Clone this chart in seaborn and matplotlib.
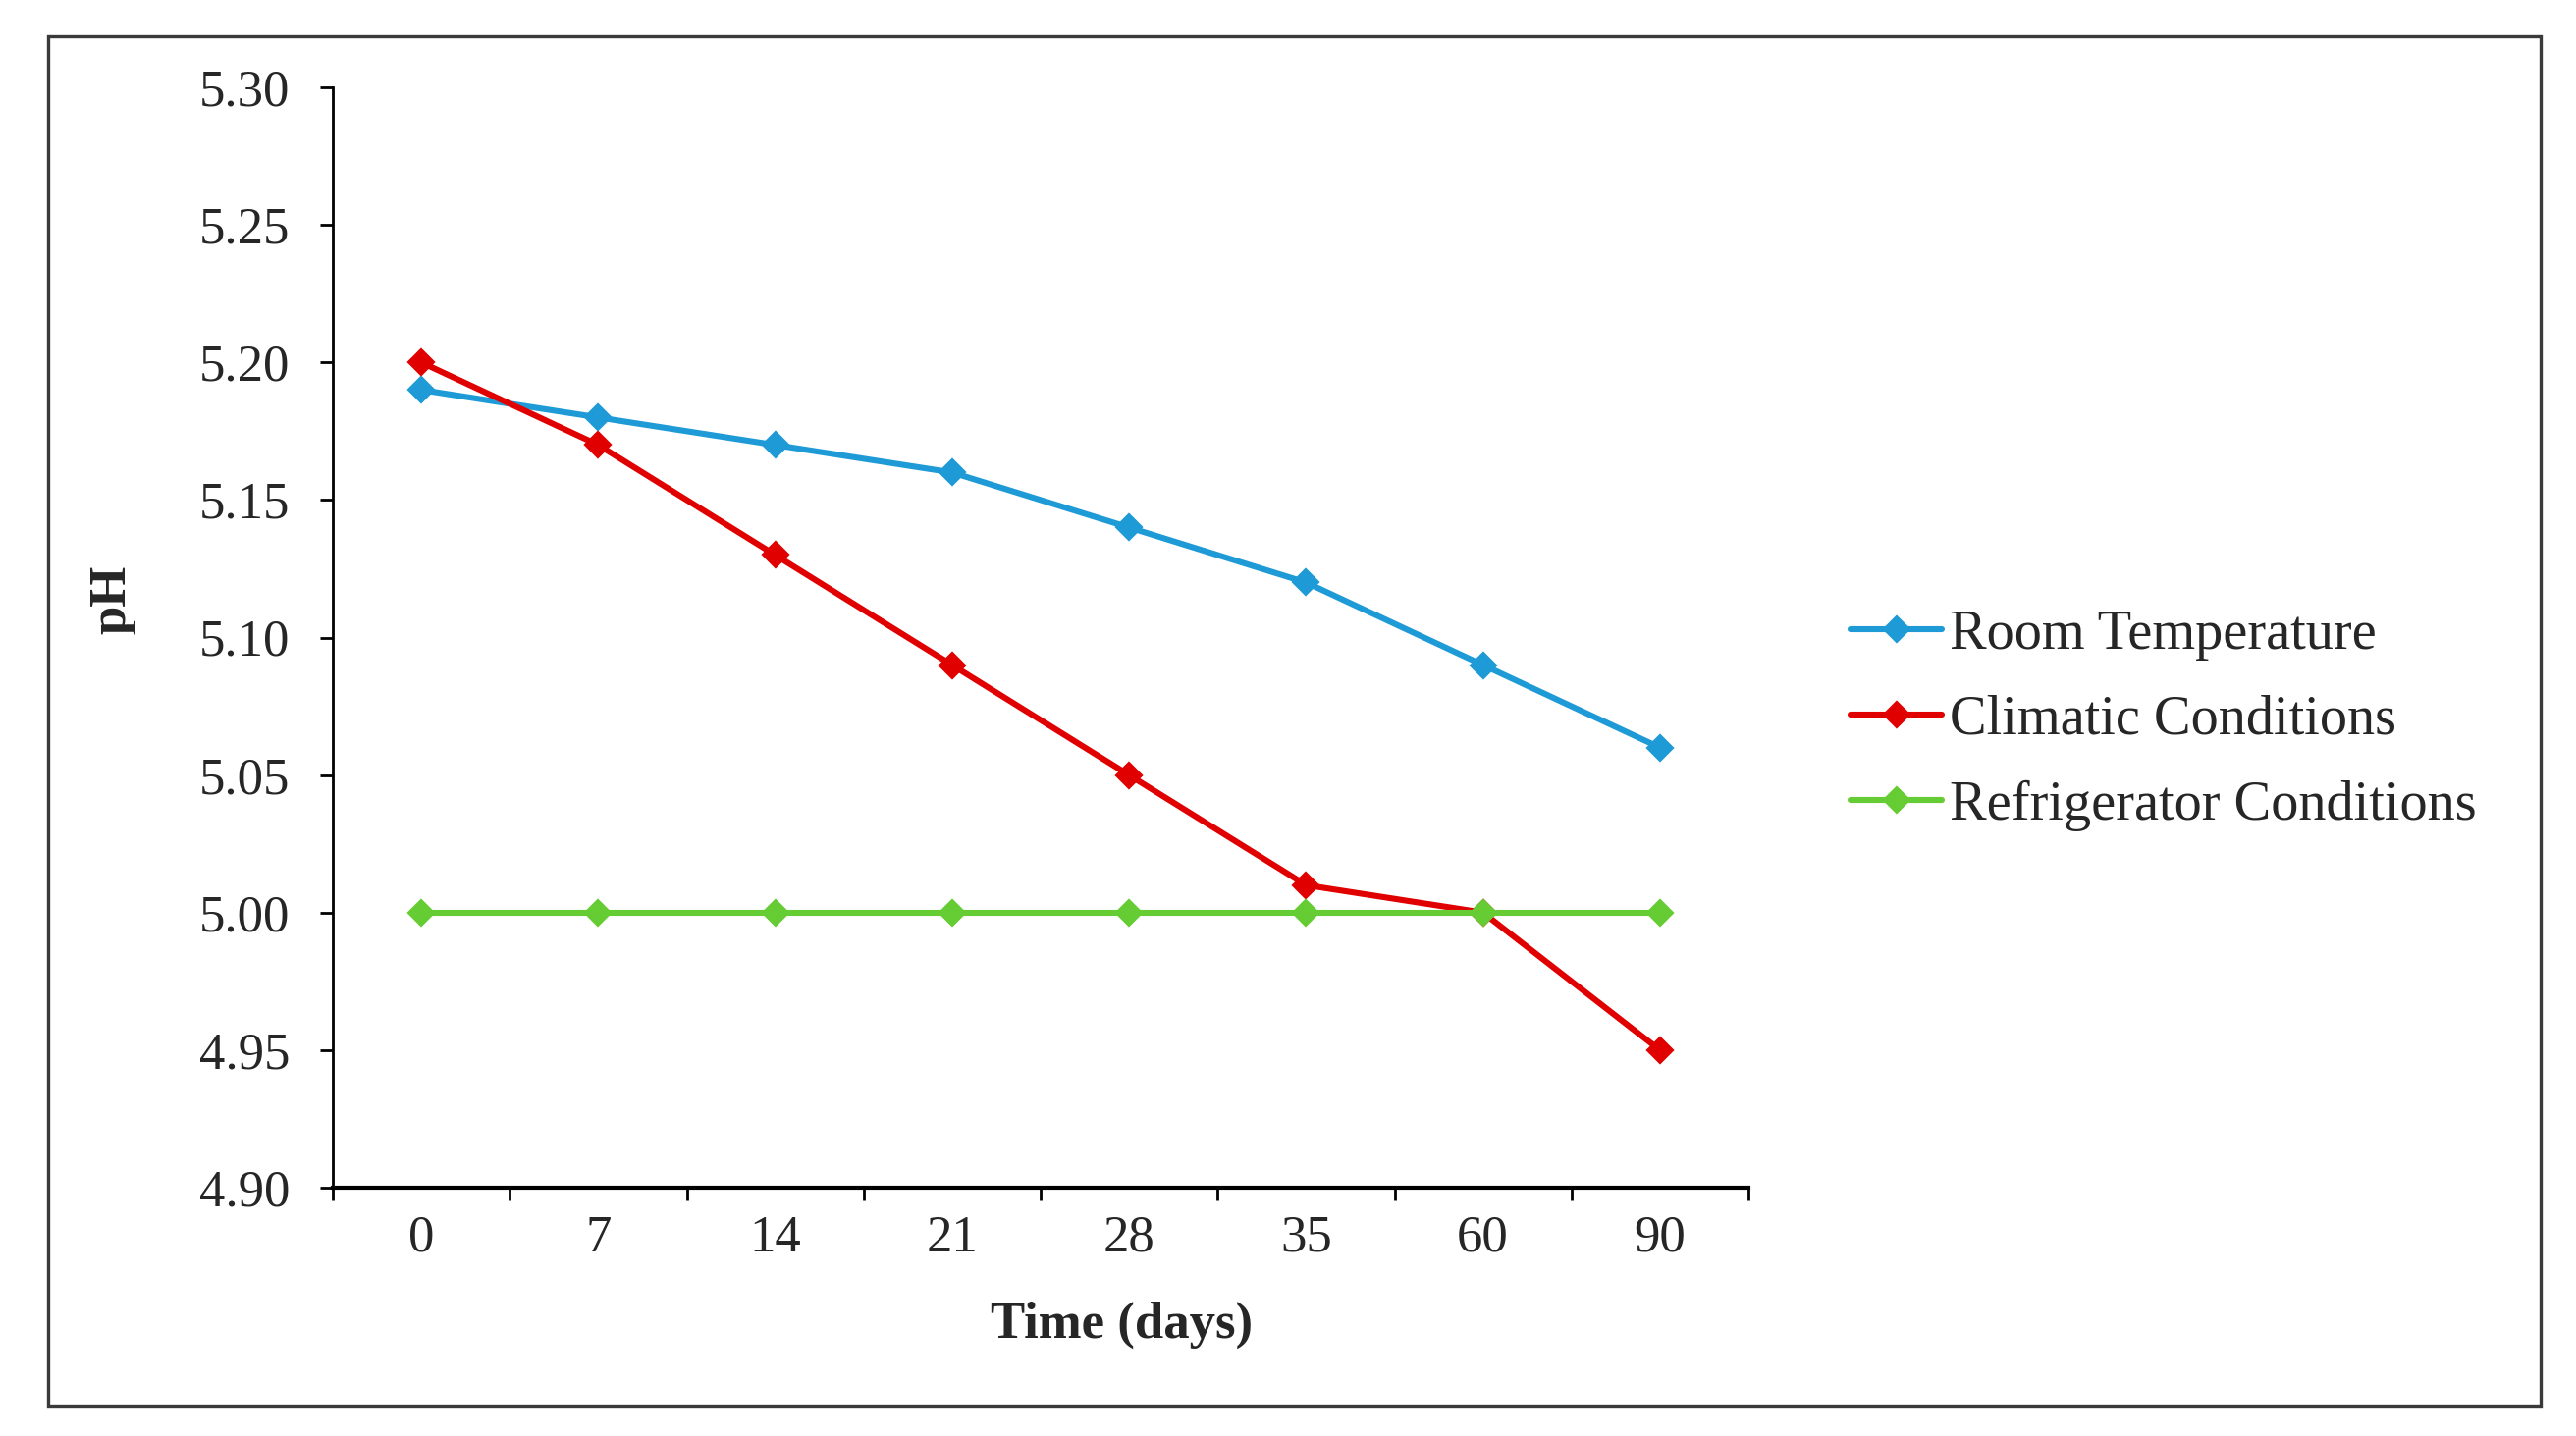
import matplotlib
matplotlib.use("Agg")
import matplotlib.pyplot as plt
import seaborn as sns
import pandas as pd
from matplotlib.patches import Rectangle

days = ["0", "7", "14", "21", "28", "35", "60", "90"]
room_temperature = [5.19, 5.18, 5.17, 5.16, 5.14, 5.12, 5.09, 5.06]
climatic_conditions = [5.20, 5.17, 5.13, 5.09, 5.05, 5.01, 5.00, 4.95]
refrigerator_conditions = [5.00, 5.00, 5.00, 5.00, 5.00, 5.00, 5.00, 5.00]
series_names = ["Room Temperature", "Climatic Conditions", "Refrigerator Conditions"]
y_ticks = [4.90, 4.95, 5.00, 5.05, 5.10, 5.15, 5.20, 5.25, 5.30]

colors = ["#1e9ad6", "#e00000", "#66cc33"]

rows = []
for name, vals in zip(series_names, [room_temperature, climatic_conditions, refrigerator_conditions]):
    for i, (d, v) in enumerate(zip(days, vals)):
        rows.append({"pos": i, "day": d, "pH": v, "series": name})
df = pd.DataFrame(rows)

sns.set_theme(style="white")
plt.rcParams["font.family"] = ["Liberation Serif", "DejaVu Serif"]

fig = plt.figure(figsize=(13.12, 7.315), dpi=200)
ax = fig.add_axes([339/2624, 1-1210/1463, (1781-339)/2624, (1210-89)/1463])

for name, col in zip(series_names, colors):
    sub = df[df["series"] == name]
    sns.lineplot(data=sub, x="pos", y="pH", ax=ax, color=col, linewidth=2.2,
                 marker="D", markersize=6.8, markeredgecolor=col, markeredgewidth=0.8,
                 label=name)

ax.set_xlim(-0.5, len(days) - 0.5)
ax.set_ylim(4.90, 5.30)
ax.set_yticks(y_ticks)
ax.set_yticklabels([f"{t:.2f}" for t in y_ticks])

# category boundaries as major ticks, labels at centres as minor ticks
ax.set_xticks([i - 0.5 for i in range(len(days) + 1)])
ax.set_xticklabels([])
ax.set_xticks(list(range(len(days))), minor=True)
ax.set_xticklabels(days, minor=True)

ax.tick_params(axis="x", which="major", direction="out", length=4.8, width=1.0, color="black", bottom=True)
ax.tick_params(axis="x", which="minor", length=0, pad=10, labelsize=19)
ax.tick_params(axis="y", which="major", direction="out", length=4.8, width=1.0, color="black", left=True, pad=11, labelsize=19)

for s in ["top", "right"]:
    ax.spines[s].set_visible(False)
for s in ["left", "bottom"]:
    ax.spines[s].set_color("black")
    ax.spines[s].set_linewidth(1.0)
ax.spines["bottom"].set_linewidth(1.5)

ax.set_xlabel("")
ax.set_ylabel("")
fig.text(1143/2624, 1-1350/1463, "Time (days)", ha="center", va="center", fontsize=19, fontweight="bold")
fig.text(114/2624, 1-611/1463, "pH", ha="center", va="center", fontsize=19, fontweight="bold", rotation=90)

if ax.legend_:
    ax.legend_.remove()
handles, labels = ax.get_legend_handles_labels()
fig.legend(handles, labels, loc="center left", bbox_to_anchor=(1885/2624, 1-734/1463),
           frameon=False, fontsize=20.3, handlelength=1.65, handletextpad=0.15,
           labelspacing=0.62, borderpad=0, borderaxespad=0)

fig.patches.append(Rectangle((49/2624, 1-1432/1463), (2588-49)/2624, (1432-37)/1463,
                             transform=fig.transFigure, fill=False, edgecolor="#3a3a3a",
                             linewidth=1.2, zorder=10))

fig.savefig("out.png", dpi=200)
